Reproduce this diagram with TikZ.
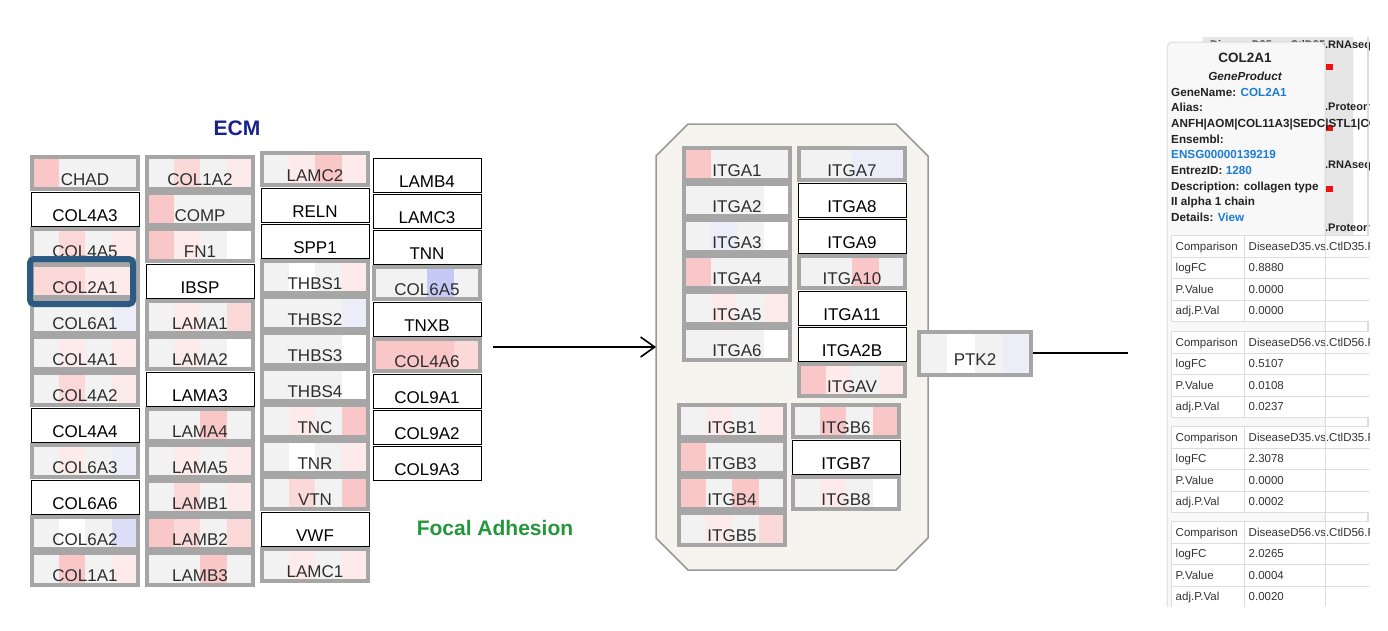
\documentclass[tikz,border=0pt]{standalone}
\usepackage{fontspec}
\setmainfont{Liberation Sans}
\usepackage{colortbl}
\usetikzlibrary{arrows.meta,calc}
\definecolor{hg}{HTML}{F2F2F2}
\definecolor{hw}{HTML}{FFFFFF}
\definecolor{hp1}{HTML}{FDEBEB}
\definecolor{hp2}{HTML}{FBD9D9}
\definecolor{hp3}{HTML}{F9C7C7}
\definecolor{hb1}{HTML}{EDEDFA}
\definecolor{hb2}{HTML}{DCDDF7}
\definecolor{hb3}{HTML}{C5C9F5}
\definecolor{boxgray}{HTML}{A6A6A6}
\definecolor{ecmblue}{HTML}{17228A}
\definecolor{fagreen}{HTML}{25963B}
\definecolor{selblue}{HTML}{2D5A82}
\definecolor{fafill}{HTML}{F5F4EE}
\definecolor{faline}{HTML}{999999}
\definecolor{linkblue}{HTML}{1C7CD5}
\definecolor{tipfill}{HTML}{F8F8F8}
\definecolor{tipline}{HTML}{DDDDDD}
\definecolor{panelgray}{HTML}{E6E6E6}
\definecolor{tabtext}{HTML}{333333}
\definecolor{tiptext}{HTML}{222222}
\definecolor{barred}{HTML}{EE1111}
\renewcommand{\arraystretch}{1.46}
\setlength{\tabcolsep}{3.5pt}
\setlength{\arrayrulewidth}{1pt}
\begin{document}
\begin{tikzpicture}[x=1pt,y=-1pt]
\tikzstyle{every node}+=[inner sep=0pt]
\tikzstyle{dbox}=[draw=boxgray,line width=4pt,minimum width=106pt,minimum height=32pt,text height=24pt,text depth=0pt,font=\fontsize{17}{20}\selectfont,text=black!82]
\tikzstyle{nbox}=[draw=black,fill=white,line width=1pt,minimum width=108pt,minimum height=34pt,text height=24pt,text depth=0pt,font=\fontsize{17}{20}\selectfont]
\tikzset{hm/.style n args={4}{path picture={
\path (path picture bounding box.north west) coordinate (h0) (path picture bounding box.south east) coordinate (h4);
\path ($(h0)!.25!(h4)$) coordinate (h1) ($(h0)!.5!(h4)$) coordinate (h2) ($(h0)!.75!(h4)$) coordinate (h3);
\fill[#1] (h0) rectangle (h1 |- h4);
\fill[#2] (h1 |- h0) rectangle (h2 |- h4);
\fill[#3] (h2 |- h0) rectangle (h3 |- h4);
\fill[#4] (h3 |- h0) rectangle (h4);}}}
\tikzstyle{bgtxt}=[anchor=west,text height=7.9pt,text depth=0pt,font=\fontsize{11}{13}\selectfont\bfseries,text=tiptext]
\tikzstyle{tiptxt}=[anchor=west,text height=8.4pt,text depth=0pt,font=\fontsize{11.7}{14}\selectfont\bfseries,text=tiptext]
\tikzstyle{tab}=[anchor=north west,fill=white,font=\fontsize{11.5}{14}\selectfont\arrayrulecolor{tipline},text=tabtext]
\useasboundingbox (0,0) rectangle (1388,630);
\node[font=\fontsize{21}{24}\selectfont\bfseries,text=ecmblue] (ecm) at (237,128) {ECM};
\node[font=\fontsize{21}{24}\selectfont\bfseries,text=fagreen] (fal) at (495,528) {Focal Adhesion};
\node[dbox,hm={hp3}{hg}{hg}{hg}] (chad) at (85,173) {CHAD};
\node[nbox] (col4a3) at (85,209) {COL4A3};
\node[dbox,hm={hg}{hp2}{hg}{hp1}] (col4a5) at (85,245) {COL4A5};
\node[dbox,hm={hp2}{hp2}{hp1}{hp1}] (col2a1) at (85,281) {COL2A1};
\node[dbox,hm={hg}{hg}{hg}{hb1}] (col6a1) at (85,317) {COL6A1};
\node[dbox,hm={hg}{hp1}{hg}{hp1}] (col4a1) at (85,353) {COL4A1};
\node[dbox,hm={hg}{hp2}{hg}{hp1}] (col4a2) at (85,389) {COL4A2};
\node[nbox] (col4a4) at (85,425) {COL4A4};
\node[dbox,hm={hg}{hp1}{hg}{hb1}] (col6a3) at (85,461) {COL6A3};
\node[nbox] (col6a6) at (85,497) {COL6A6};
\node[dbox,hm={hg}{hw}{hg}{hb2}] (col6a2) at (85,533) {COL6A2};
\node[dbox,hm={hg}{hp3}{hg}{hp1}] (col1a1) at (85,569) {COL1A1};
\node[dbox,hm={hg}{hp2}{hg}{hp1}] (col1a2) at (200,173) {COL1A2};
\node[dbox,hm={hp3}{hg}{hg}{hg}] (comp) at (200,209) {COMP};
\node[dbox,hm={hp3}{hp1}{hg}{hw}] (fn1) at (200,245) {FN1};
\node[nbox] (ibsp) at (200,281) {IBSP};
\node[dbox,hm={hg}{hp1}{hg}{hp2}] (lama1) at (200,317) {LAMA1};
\node[dbox,hm={hg}{hp1}{hg}{hw}] (lama2) at (200,353) {LAMA2};
\node[nbox] (lama3) at (200,389) {LAMA3};
\node[dbox,hm={hg}{hg}{hp3}{hg}] (lama4) at (200,425) {LAMA4};
\node[dbox,hm={hg}{hp1}{hg}{hp1}] (lama5) at (200,461) {LAMA5};
\node[dbox,hm={hg}{hp2}{hg}{hp1}] (lamb1) at (200,497) {LAMB1};
\node[dbox,hm={hp3}{hp2}{hg}{hp2}] (lamb2) at (200,533) {LAMB2};
\node[dbox,hm={hg}{hg}{hp3}{hg}] (lamb3) at (200,569) {LAMB3};
\node[dbox,hm={hg}{hp1}{hp3}{hp1}] (lamc2) at (315,169) {LAMC2};
\node[nbox] (reln) at (315,205) {RELN};
\node[nbox] (spp1) at (315,241) {SPP1};
\node[dbox,hm={hg}{hw}{hg}{hp1}] (thbs1) at (315,277) {THBS1};
\node[dbox,hm={hg}{hg}{hg}{hb1}] (thbs2) at (315,313) {THBS2};
\node[dbox,hm={hg}{hg}{hg}{hw}] (thbs3) at (315,349) {THBS3};
\node[dbox,hm={hg}{hg}{hg}{hw}] (thbs4) at (315,385) {THBS4};
\node[dbox,hm={hg}{hp1}{hg}{hp3}] (tnc) at (315,421) {TNC};
\node[dbox,hm={hg}{hw}{hg}{hp1}] (tnr) at (315,457) {TNR};
\node[dbox,hm={hg}{hp2}{hg}{hp3}] (vtn) at (315,493) {VTN};
\node[nbox] (vwf) at (315,529) {VWF};
\node[dbox,hm={hg}{hp1}{hg}{hp1}] (lamc1) at (315,565) {LAMC1};
\node[nbox] (lamb4) at (427,175) {LAMB4};
\node[nbox] (lamc3) at (427,211) {LAMC3};
\node[nbox] (tnn) at (427,247) {TNN};
\node[dbox,hm={hg}{hg}{hb3}{hg}] (col6a5) at (427,283) {COL6A5};
\node[nbox] (tnxb) at (427,319) {TNXB};
\node[dbox,hm={hp3}{hp3}{hp3}{hp2}] (col4a6) at (427,355) {COL4A6};
\node[nbox] (col9a1) at (427,391) {COL9A1};
\node[nbox] (col9a2) at (427,427) {COL9A2};
\node[nbox] (col9a3) at (427,463) {COL9A3};
\draw[selblue,line width=6pt,rounded corners=4pt] ([shift={(0,-4)}]col2a1.north west) rectangle ([shift={(-7,5)}]col2a1.south east);
\filldraw[fill=fafill,draw=faline,line width=1.5pt] (656,156) -- (688,124) -- (896,124) -- (928,156) -- (928,538) -- (896,570) -- (688,570) -- (656,538) -- cycle;
\coordinate (ecmr) at (493,347);
\coordinate (fa) at (656,347);
\draw[line width=1.6pt,-{Straight Barb[length=14pt,width=20pt]}] (ecmr) -- (fa);
\node[dbox,hm={hp3}{hg}{hg}{hg}] (itga1) at (737,164) {ITGA1};
\node[dbox,hm={hg}{hg}{hg}{hw}] (itga2) at (737,200) {ITGA2};
\node[dbox,hm={hg}{hb1}{hg}{hw}] (itga3) at (737,236) {ITGA3};
\node[dbox,hm={hp3}{hg}{hg}{hg}] (itga4) at (737,272) {ITGA4};
\node[dbox,hm={hg}{hp1}{hg}{hp1}] (itga5) at (737,308) {ITGA5};
\node[dbox,hm={hg}{hg}{hg}{hw}] (itga6) at (737,344) {ITGA6};
\node[dbox,hm={hg}{hg}{hb1}{hb1}] (itga7) at (852,164) {ITGA7};
\node[nbox] (itga8) at (852,200) {ITGA8};
\node[nbox] (itga9) at (852,236) {ITGA9};
\node[dbox,hm={hg}{hg}{hp3}{hg}] (itga10) at (852,272) {ITGA10};
\node[nbox] (itga11) at (852,308) {ITGA11};
\node[nbox] (itga2b) at (852,344) {ITGA2B};
\node[dbox,hm={hp3}{hp1}{hg}{hp1}] (itgav) at (852,380) {ITGAV};
\node[dbox,hm={hg}{hp1}{hg}{hp1}] (itgb1) at (732,421) {ITGB1};
\node[dbox,hm={hp3}{hg}{hg}{hg}] (itgb3) at (732,457) {ITGB3};
\node[dbox,hm={hp3}{hg}{hp3}{hg}] (itgb4) at (732,493) {ITGB4};
\node[dbox,hm={hg}{hp1}{hg}{hp2}] (itgb5) at (732,529) {ITGB5};
\node[dbox,hm={hg}{hp3}{hg}{hp3}] (itgb6) at (846,421) {ITGB6};
\node[nbox] (itgb7) at (846,457) {ITGB7};
\node[dbox,hm={hg}{hp1}{hg}{hw}] (itgb8) at (846,493) {ITGB8};
\node[dbox,hm={hg}{hw}{hg}{hb1},minimum width=112pt,minimum height=43pt] (ptk2) at (975,353) {PTK2};
\coordinate (pnl) at (1128,353);
\draw[line width=1.5pt] (ptk2) -- (pnl);
\begin{scope}
\clip (1150,37) rectangle (1369,606);
\filldraw[fill=panelgray,draw=tipline,rounded corners=6pt] (1203,20) rectangle (1353,300);
\node[bgtxt] (bg1) at (1210,45) {DiseaseD35.vs.CtlD35.RNAseq};
\node[bgtxt] (bg2) at (1210,107) {DiseaseD35.vs.CtlD35.Proteomics};
\node[bgtxt] (bg3) at (1210,165) {DiseaseD56.vs.CtlD56.RNAseq};
\node[bgtxt] (bg4) at (1210,228) {DiseaseD56.vs.CtlD56.Proteomics};
\fill[barred] (1310,64) rectangle (1333,70);
\fill[barred] (1310,125) rectangle (1333,131);
\fill[barred] (1310,186) rectangle (1333,192);
\fill[barred] (1310,249) rectangle (1333,255);
\draw[tipline,line width=1.5pt] (1368,30) -- (1368,606);
\filldraw[fill=tipfill,draw=tipline,line width=1pt,rounded corners=6pt] (1167,42) rectangle (1325,640);
\node[tiptxt,anchor=center,font=\fontsize{13.5}{16}\selectfont\bfseries] (tipname) at (1245,58) {COL2A1};
\node[tiptxt,anchor=center] (tipkind) at (1245,76) {\itshape GeneProduct};
\node[tiptxt] (tipgn) at (1171,92) {GeneName: \textcolor{linkblue}{COL2A1}};
\node[tiptxt] (tipal) at (1171,107) {Alias:};
\node[tiptxt] (tipalv) at (1171,123) {ANFH|AOM|COL11A3|SEDC|STL1|CO};
\node[tiptxt] (tipens) at (1171,139) {Ensembl:};
\node[tiptxt] (tipensv) at (1171,154) {\textcolor{linkblue}{ENSG00000139219}};
\node[tiptxt] (tipez) at (1171,170) {EntrezID: \textcolor{linkblue}{1280}};
\node[tiptxt] (tipds) at (1171,186) {Description: collagen type};
\node[tiptxt] (tipdsv) at (1171,201) {II alpha 1 chain};
\node[tiptxt] (tipdt) at (1171,217) {Details: \textcolor{linkblue}{View}};
\node[tab] (tab1) at (1171,235) {\begin{tabular}{|p{65pt}|p{150pt}|}\hline Comparison & DiseaseD35.vs.CtlD35.RNAseq\\\hline logFC & 0.8880\\\hline P.Value & 0.0000\\\hline adj.P.Val & 0.0000\\\hline\end{tabular}};
\node[tab] (tab2) at (1171,331) {\begin{tabular}{|p{65pt}|p{150pt}|}\hline Comparison & DiseaseD56.vs.CtlD56.RNAseq\\\hline logFC & 0.5107\\\hline P.Value & 0.0108\\\hline adj.P.Val & 0.0237\\\hline\end{tabular}};
\node[tab] (tab3) at (1171,426) {\begin{tabular}{|p{65pt}|p{150pt}|}\hline Comparison & DiseaseD35.vs.CtlD35.Proteomics\\\hline logFC & 2.3078\\\hline P.Value & 0.0000\\\hline adj.P.Val & 0.0002\\\hline\end{tabular}};
\node[tab] (tab4) at (1171,521) {\begin{tabular}{|p{65pt}|p{150pt}|}\hline Comparison & DiseaseD56.vs.CtlD56.Proteomics\\\hline logFC & 2.0265\\\hline P.Value & 0.0004\\\hline adj.P.Val & 0.0020\\\hline\end{tabular}};
\draw[tipline,line width=1pt] (1325,42) -- (1325,606);
\end{scope}
\end{tikzpicture}
\end{document}
